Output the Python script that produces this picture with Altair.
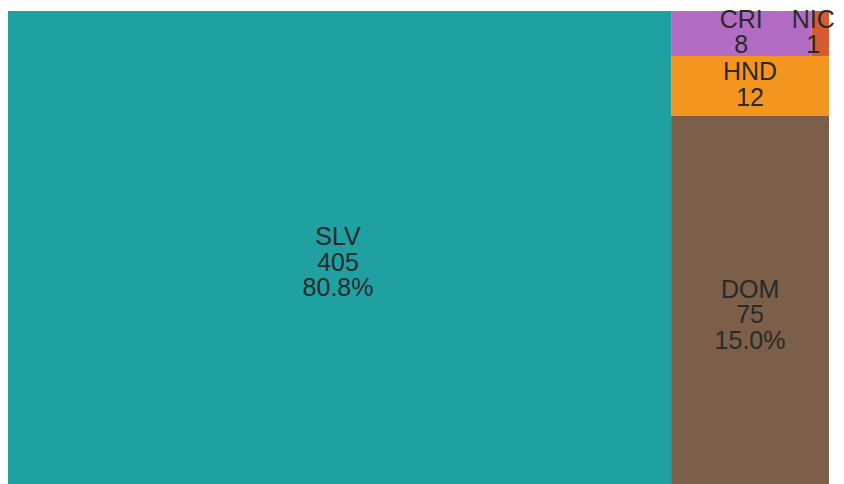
import altair as alt
import pandas as pd

# ---- data -------------------------------------------------------------
codes = ["SLV", "DOM", "HND", "CRI", "NIC"]
values = [405, 75, 12, 8, 1]
colors = ["#1fa0a1", "#7b5f49", "#f3951f", "#b36cc3", "#d65a32"]
show_pct = ["SLV", "DOM"]

# nesting of the treemap (h = side by side, v = stacked bottom->top)
structure = ("h", ["SLV", ("v", ["DOM", "HND", ("h", ["CRI", "NIC"])])])

val = dict(zip(codes, values))
total = sum(values)


def node_value(n):
    if isinstance(n, str):
        return val[n]
    return sum(node_value(c) for c in n[1])


def layout(n, x0, y0, x1, y1, out):
    if isinstance(n, str):
        out[n] = (x0, y0, x1, y1)
        return
    kind, children = n
    s = node_value(n)
    pos = x0 if kind == "h" else y0
    for c in children:
        f = node_value(c) / s
        if kind == "h":
            nxt = pos + (x1 - x0) * f
            layout(c, pos, y0, nxt, y1, out)
        else:
            nxt = pos + (y1 - y0) * f
            layout(c, x0, pos, x1, nxt, out)
        pos = nxt


rects = {}
layout(structure, 0.0, 0.0, 1.0, 1.0, rects)

rows = []
for c, v in zip(codes, values):
    x0, y0, x1, y1 = rects[c]
    lines = [c, str(v)]
    if c in show_pct:
        lines.append(f"{100 * v / total:.1f}%")
    rows.append(dict(code=c, value=v, x0=x0, x1=x1, y0=y0, y1=y1,
                     xc=(x0 + x1) / 2, yc=(y0 + y1) / 2, label=lines))
df = pd.DataFrame(rows)

# the treemap runs slightly past the window at the left and bottom edges
xs = alt.Scale(domain=[0, 1], range=[-3, 821])
ys = alt.Scale(domain=[0, 1])
col = alt.Color("code:N", scale=alt.Scale(domain=codes, range=colors), legend=None)

rect = alt.Chart(df).mark_rect(stroke=None).encode(
    x=alt.X("x0:Q", scale=xs, axis=None),
    x2="x1:Q",
    y=alt.Y("y0:Q", scale=ys, axis=None),
    y2="y1:Q",
    color=col,
)

text_style = dict(font="Liberation Sans", fontSize=25, color="#2a2a2a",
                  align="center", baseline="alphabetic", dy=-6, lineHeight=25.5)
text_enc = dict(
    x=alt.X("xc:Q", scale=xs, axis=None),
    y=alt.Y("yc:Q", scale=ys, axis=None),
    text="label",
)

text = alt.Chart(df).transform_filter("datum.code != 'NIC'").mark_text(
    **text_style).encode(**text_enc)
# the label of the thin right-edge cell is nudged so it stays inside the page
text_edge = alt.Chart(df).transform_filter("datum.code == 'NIC'").mark_text(
    dx=-7, **text_style).encode(**text_enc)

chart = (rect + text + text_edge).properties(
    width=824, height=480,
    padding={"left": 0, "top": 3, "right": 4, "bottom": 0},
    autosize=alt.AutoSizeParams(type="none"),
    background="white",
).configure_view(stroke=None)

chart.save("out.html", embed_options={"renderer": "svg", "actions": False})
